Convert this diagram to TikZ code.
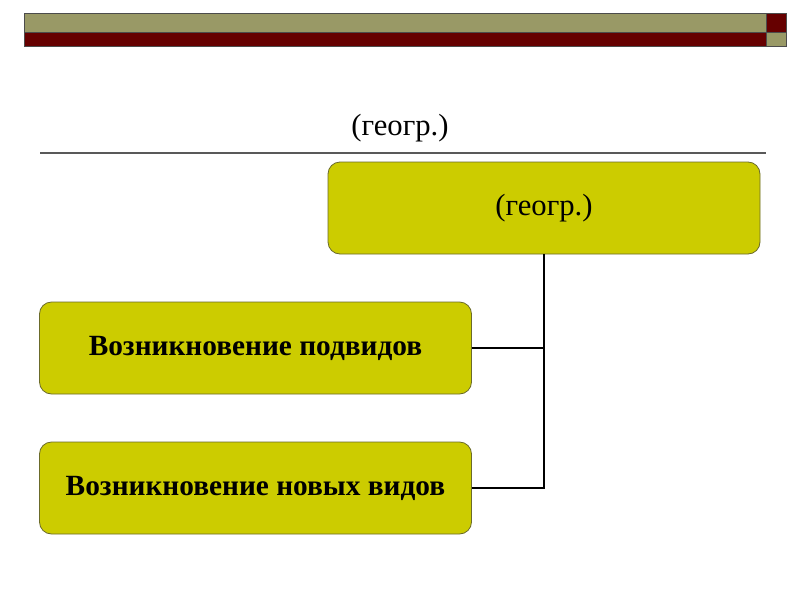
\documentclass[tikz,border=0pt]{standalone}
\usepackage{fontspec}
\setmainfont{Liberation Serif}
\definecolor{barolive}{HTML}{999966}
\definecolor{barred}{HTML}{660000}
\definecolor{boxfill}{HTML}{CCCC00}
\definecolor{boxline}{HTML}{6B6B2A}
\begin{document}
\begin{tikzpicture}[x=0.75pt,y=-0.75pt,
  box/.style={draw=boxline,line width=0.6pt,fill=boxfill,rounded corners=9pt,
    minimum width=324pt,minimum height=69pt,inner sep=0pt,font=\fontsize{23}{27}\selectfont},
  boldbox/.style={box,font=\fontsize{22}{26}\selectfont\bfseries},
  conn/.style={line width=1.5pt,black}]
\useasboundingbox (0,0) rectangle (800,600);
\fill[white] (0,0) rectangle (800,600);
% header bars
\draw[fill=barolive,draw=black!70,line width=0.5pt] (24,13) rectangle (766,32);
\draw[fill=barred,draw=black!70,line width=0.5pt] (766,13) rectangle (786,32);
\draw[fill=barred,draw=black!70,line width=0.5pt] (24,32) rectangle (766,46);
\draw[fill=barolive,draw=black!70,line width=0.5pt] (766,32) rectangle (786,46);
% title
\node[font=\fontsize{23}{27}\selectfont] (title) at (400,128) {(геогр.)};
\draw[line width=1.2pt,black!65] (40,153) -- (766,153);
% boxes
\node[box] (top) at (544,208) {(геогр.)};
\node[boldbox] (sub) at (255.5,348) {Возникновение подвидов};
\node[boldbox] (new) at (255.5,488) {Возникновение новых видов};
\coordinate (j1) at (top.south |- sub.east);
\coordinate (j2) at (top.south |- new.east);
\draw[conn] (top.south) -- (j2) -- (new.east);
\draw[conn] (sub.east) -- (j1);
\end{tikzpicture}
\end{document}
